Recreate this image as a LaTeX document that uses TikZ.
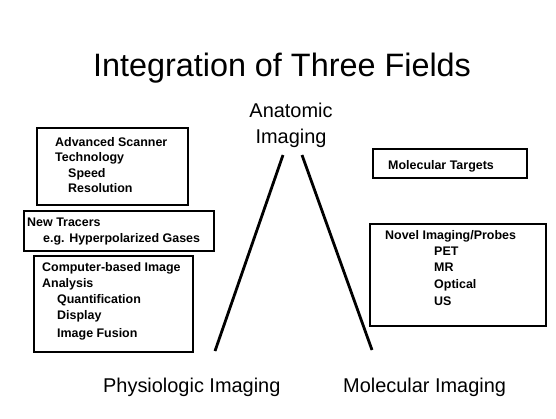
\documentclass[tikz,border=0pt]{standalone}
\usepackage{fontspec}
\setmainfont{Liberation Sans}
\begin{document}
\begin{tikzpicture}[x=1bp,y=-1bp,
  box/.style={draw=black,line width=1.6bp},
  small/.style={font=\bfseries\fontsize{12.5}{15}\selectfont,anchor=base west,inner sep=0pt},
  big/.style={font=\fontsize{20}{24}\selectfont,inner sep=0pt},
  leg/.style={line width=2.8bp}]
\useasboundingbox (0,0) rectangle (556,418);
\fill[white] (0,0) rectangle (556,418);
% title
\node[font=\fontsize{32.5}{38}\selectfont,anchor=base,inner sep=0pt] (title) at (282,76) {Integration of Three Fields};
% apex labels
\node[big,anchor=base] (anat1) at (291,117) {Anatomic};
\node[big,anchor=base] (anat2) at (291,143) {Imaging};
\node[big,anchor=base west] (phys) at (103,392) {Physiologic Imaging};
\node[big,anchor=base west] (mol) at (343,392) {Molecular Imaging};
% triangle legs
\coordinate (lt) at (283,155);
\coordinate (lb) at (215,351);
\coordinate (rt) at (302,155);
\coordinate (rb) at (372,350);
\draw[leg] (lt) -- (lb);
\draw[leg] (rt) -- (rb);
% box 1
\draw[box] (37,128) rectangle (188,205);
\node[small] (a1) at (55,146) {Advanced Scanner};
\node[small] (a2) at (55,161) {Technology};
\node[small] (a3) at (68,177) {Speed};
\node[small] (a4) at (68,192) {Resolution};
% box 2
\draw[box] (24,211) rectangle (214,251);
\node[small] (n1) at (27,226) {New Tracers};
\node[small] (n2) at (43,242.5) {e.g. Hyperpolarized Gases};
% box 3
\draw[box] (34,256) rectangle (193,352);
\node[small] (c1) at (42,271) {Computer-based Image};
\node[small] (c2) at (42,287.5) {Analysis};
\node[small] (c3) at (57,303.5) {Quantification};
\node[small] (c4) at (57,319.5) {Display};
\node[small] (c5) at (57,337) {Image Fusion};
% box 4
\draw[box] (373,149) rectangle (527,178);
\node[small] (m1) at (388,169) {Molecular Targets};
% box 5
\draw[box] (370,224) rectangle (546,326);
\node[small] (p1) at (385,239) {Novel Imaging/Probes};
\node[small] (p2) at (434,255) {PET};
\node[small] (p3) at (434,271.5) {MR};
\node[small] (p4) at (434,288) {Optical};
\node[small] (p5) at (434,305) {US};
\end{tikzpicture}
\end{document}
